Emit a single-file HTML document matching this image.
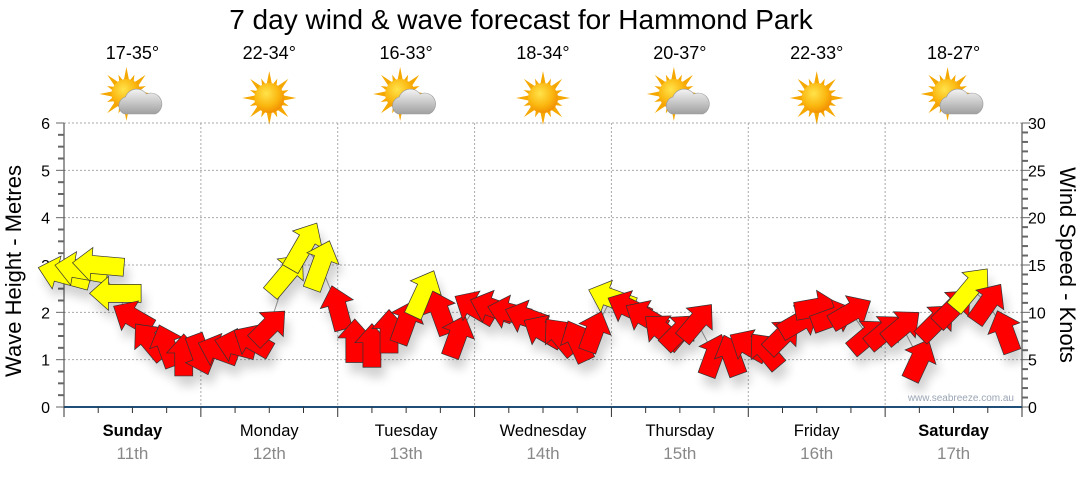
<!DOCTYPE html>
<html><head><meta charset="utf-8">
<style>
html,body{margin:0;padding:0;background:#fff;}
body{width:1080px;height:475px;overflow:hidden;font-family:"Liberation Sans","DejaVu Sans",sans-serif;}
svg text{font-family:"Liberation Sans","DejaVu Sans",sans-serif;}
</style></head>
<body>
<svg id="chart" width="1080" height="475" viewBox="0 0 1080 475" xmlns="http://www.w3.org/2000/svg">
<defs>
<filter id="shadow" x="-50%" y="-50%" width="200%" height="200%">
<feGaussianBlur in="SourceAlpha" stdDeviation="5"/>
<feOffset dx="4" dy="10" result="b"/>
<feComponentTransfer><feFuncA type="linear" slope="0.18"/></feComponentTransfer>
<feMerge><feMergeNode/><feMergeNode in="SourceGraphic"/></feMerge>
</filter>
<radialGradient id="sunG" cx="0.4" cy="0.35" r="0.7"><stop offset="0" stop-color="#ffe34a"/><stop offset="0.6" stop-color="#fbb60f"/><stop offset="1" stop-color="#f08a00"/></radialGradient>
<linearGradient id="cloudG" x1="0" y1="0" x2="0" y2="1"><stop offset="0" stop-color="#f4f4f4"/><stop offset="1" stop-color="#a0a0a0"/></linearGradient>
</defs>
<text x="521" y="29" font-size="28" text-anchor="middle" fill="#000">7 day wind &amp; wave forecast for Hammond Park</text>
<g id="icons"></g>
<g id="grid"></g>
<g id="axes"></g>
<g id="series"></g>
<text x="1014" y="401" font-size="10" text-anchor="end" fill="#9aa5b5">www.seabreeze.com.au</text>
</svg>
<script>
const days = ["Sunday","Monday","Tuesday","Wednesday","Thursday","Friday","Saturday"];
const dates = ["11th","12th","13th","14th","15th","16th","17th"];
const temps = ["17-35°","22-34°","16-33°","18-34°","20-37°","22-33°","18-27°"];
const cloudy = [true,false,true,false,true,false,true];
const waveTicks = [0,1,2,3,4,5,6];
const windTicks = [0,5,10,15,20,25,30];
// 3-hourly series
const waveHeight = [2.8,2.9,3.0,2.4,1.9,1.4,1.3,1.1, 1.1,1.2,1.3,1.4,1.7,2.8,3.4,3.0, 2.1,1.4,1.3,1.6,1.8,2.4,2.0,1.5,
 2.1,2.1,2.0,1.9,1.6,1.5,1.4,1.6, 2.3,2.1,1.9,1.6,1.6,1.8,1.1,1.1, 1.3,1.2,1.5,1.8,2.1,1.9,2.0,1.5, 1.6,1.7,1.0,1.8,2.1,2.5,2.2,1.6];
const windDir = [285,280,275,270,300,320,340,0, 160,290,285,300,45,40,30,20, 345,0,0,0,20,25,340,20,
 300,290,285,290,300,320,335,20, 290,295,300,310,45,40,20,340, 300,320,45,60,80,70,60,50, 50,50,25,45,45,40,35,340];
const windSpeed = [17,17,16,16,11,11,11,10, 10,10,10,10,11,15,17,16, 12,11,11,11,12,15,12,11,
 12,12,11,11,11,11,11,10, 14,12,12,12,11,12,11,10, 10,10,10,11,11,12,12,11, 11,11,11,12,13,16,12,11];

const NS="http://www.w3.org/2000/svg";
const X0=64, X1=1022, Y0=407, Y1=123;
const xOf = h => X0 + h/168*(X1-X0);
const yWave = v => Y0 - v/6*(Y0-Y1);
const yWind = v => Y0 - v/30*(Y0-Y1);
function mk(tag, attrs, parent){const e=document.createElementNS(NS,tag);for(const k in attrs)e.setAttribute(k,attrs[k]);parent.appendChild(e);return e;}
const grid=document.getElementById('grid'), axes=document.getElementById('axes'), series=document.getElementById('series'), icons=document.getElementById('icons');

waveTicks.forEach(t=>{ if(t>0){ const l=mk('line',{x1:X0,x2:X1,y1:yWave(t),y2:yWave(t),stroke:'#aaa','stroke-dasharray':'2,2','stroke-width':1},grid);
   }});
for(let d=1; d<7; d++){ const x=xOf(d*24); const l=mk('line',{x1:x,x2:x,y1:Y1,y2:Y0,stroke:'#aaa','stroke-dasharray':'2,2','stroke-width':1},grid);
   }

let a=mk('line',{x1:X0,x2:X0,y1:Y1,y2:Y0,stroke:'#333','stroke-width':1},axes);  
for(let v=0; v<=6.001; v+=0.25){ const y=yWave(v); const major=Math.abs(v-Math.round(v))<0.01;
 mk('line',{x1:X0-(major?8:6),x2:X0,y1:y,y2:y,stroke:'#666','stroke-width':major?1:2},axes); }
waveTicks.forEach(t=>{ const tx=mk('text',{x:50,y:yWave(t)+6,'font-size':16,'text-anchor':'end',fill:'#000'},axes); tx.textContent=t;
   });
let yt=mk('text',{x:0,y:0,'font-size':22,'text-anchor':'middle',transform:'translate(21,271) rotate(-90)'},axes); yt.textContent='Wave Height - Metres';
 

a=mk('line',{x1:X1,x2:X1,y1:Y1,y2:Y0,stroke:'#333','stroke-width':1},axes);  
for(let v=0; v<=30; v++){ const y=yWind(v); const major=v%5===0;
 mk('line',{x1:X1,x2:X1+(major?8:6),y1:y,y2:y,stroke:'#666','stroke-width':major?1:2},axes); }
windTicks.forEach(t=>{ const tx=mk('text',{x:1028,y:yWind(t)+6,'font-size':16,fill:'#000'},axes); tx.textContent=t;
   });
yt=mk('text',{x:0,y:0,'font-size':22,'text-anchor':'middle',transform:'translate(1060,265) rotate(90)'},axes); yt.textContent='Wind Speed - Knots';
 

a=mk('line',{x1:X0,x2:X1,y1:Y0,y2:Y0,stroke:'#1f4e79','stroke-width':2},axes);  
for(let h=0; h<=168; h+=6){ const x=xOf(h); mk('line',{x1:x,x2:x,y1:Y0,y2:Y0+(h%24===0?10:6),stroke:'#333','stroke-width':1},axes); }
days.forEach((d,i)=>{ const cx=xOf(i*24+12);
 const t1=mk('text',{x:cx,y:436,'font-size':16.5,'text-anchor':'middle',fill:'#000','font-weight':(i===0||i===6)?'bold':'normal'},axes); t1.textContent=d;
  
 const t2=mk('text',{x:cx,y:459,'font-size':17,'text-anchor':'middle',fill:'#888'},axes); t2.textContent=dates[i];
  
 const tt=mk('text',{x:cx,y:59,'font-size':18,'text-anchor':'middle',fill:'#000'},icons); tt.textContent=temps[i];
  
 const g=mk('g',{transform:`translate(${cx},${98})`},icons);
  
 const sx=cloudy[i]?-6:0, sy=cloudy[i]?-4:0;
 for(let k=0;k<16;k++){ const ang=k*Math.PI/8, L=(k%2===0)?27:21, w=(k%2===0)?3:2.5;
  const px=-Math.sin(ang)*w, py=Math.cos(ang)*w;
  mk('polygon',{points:`${sx+Math.cos(ang)*L},${sy+Math.sin(ang)*L} ${sx+px+Math.cos(ang)*12},${sy+py+Math.sin(ang)*12} ${sx-px+Math.cos(ang)*12},${sy-py+Math.sin(ang)*12}`,fill:'#f5a800'},g); }
 mk('circle',{cx:sx,cy:sy,r:15,fill:'url(#sunG)'},g);
 if(cloudy[i]){ mk('path',{d:'M-8,16 a9,9 0 0 1 1,-17 a12,12 0 0 1 21,-3 a10,10 0 0 1 9,20 z',fill:'url(#cloudG)',stroke:'#999','stroke-width':0.6},g); }
});

let pts=waveHeight.map((v,i)=>`${xOf(i*3)},${yWave(v)}`).join(' ');
const pl=mk('polyline',{points:pts,fill:'none',stroke:'#999','stroke-width':1},series);
 

const ag=mk('g',{filter:'url(#shadow)'},series);
 
waveHeight.forEach((v,i)=>{
 const sp=windSpeed[i], L=sp*1.6+26, hw=17, sw=9, hl=19;
 const d=`M0,${-L/2} L${hw},${-L/2+hl} L${sw},${-L/2+hl} L${sw},${L/2} L${-sw},${L/2} L${-sw},${-L/2+hl} L${-hw},${-L/2+hl} Z`;
 const p=mk('path',{d:d,fill:sp>=14?'#ffff00':'#ff0000',stroke:'#333','stroke-width':0.7,
  transform:`translate(${xOf(i*3)},${yWave(v)}) rotate(${windDir[i]})`},ag);
 
 
});
</script>
</body></html>
